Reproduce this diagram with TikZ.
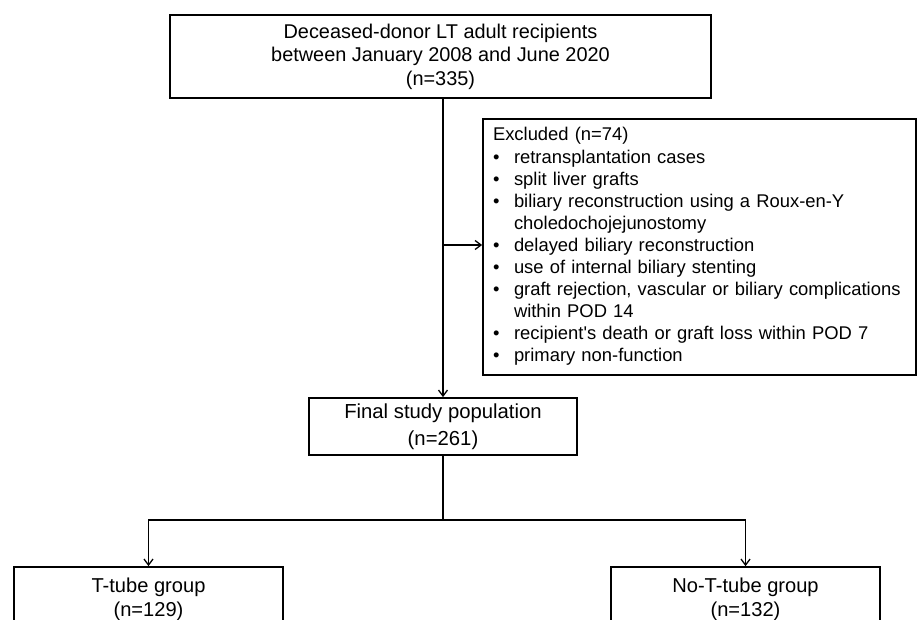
\documentclass[tikz,border=0pt]{standalone}
\usepackage{fontspec}
\setmainfont{Liberation Sans}
\usetikzlibrary{arrows.meta}
\newcommand{\straightq}{\XeTeXglyph\XeTeXglyphindex "quotesingle"\relax}
\begin{document}
\begin{tikzpicture}[x=1pt,y=-1pt,
  box/.style={draw=black, line width=1.7pt, inner sep=0pt, align=center},
  conn/.style={line width=1.4pt},
  arr/.style={conn, -{Straight Barb[length=6pt,width=9pt,line width=1.3pt]}}]
\useasboundingbox (0,0) rectangle (917,620);
\clip (0,0) rectangle (917,620);
\node[box, minimum width=541pt, minimum height=83pt,
  font=\fontsize{19.9}{23.5}\selectfont] (top) at (440.5,56.5)
  {Deceased-donor LT adult recipients\\between January 2008 and June 2020\\(n=335)};
\node[box, minimum width=433pt, minimum height=256pt, inner xsep=10pt,
  text width=413pt, align=left, font=\fontsize{18.4}{22.1}\selectfont] (excl) at (699.5,247)
  {\begin{tabular}{@{}p{21pt}@{}l@{}}
   \multicolumn{2}{@{}l@{}}{Excluded (n=74)}\\
   \textbullet & retransplantation cases\\
   \textbullet & split liver grafts\\
   \textbullet & biliary reconstruction using a Roux-en-Y\\
               & choledochojejunostomy\\
   \textbullet & delayed biliary reconstruction\\
   \textbullet & use of internal biliary stenting\\
   \textbullet & graft rejection, vascular or biliary complications\\
               & within POD 14\\
   \textbullet & recipient\straightq s death or graft loss within POD 7\\
   \textbullet & primary non-function
   \end{tabular}};
\node[box, minimum width=268pt, minimum height=57pt,
  font=\fontsize{20.3}{27}\selectfont] (final) at (443,426.5)
  {Final study population\\(n=261)};
\node[box, minimum width=269pt, minimum height=64pt,
  font=\fontsize{20.1}{24}\selectfont] (tt) at (148.5,599)
  {T-tube group\\(n=129)};
\node[box, minimum width=269pt, minimum height=64pt,
  font=\fontsize{20.1}{24}\selectfont] (ntt) at (745.5,599)
  {No-T-tube group\\(n=132)};
\coordinate (j) at (443,245);
\coordinate (br) at (443,520);
\draw[arr] (final.north |- top.south) -- (final.north);
\draw[arr] (j) -- (j -| excl.west);
\draw[conn] (final.south) -- (br);
\draw[arr] (br) -| (tt.north);
\draw[arr] (br) -| (ntt.north);
\end{tikzpicture}
\end{document}
